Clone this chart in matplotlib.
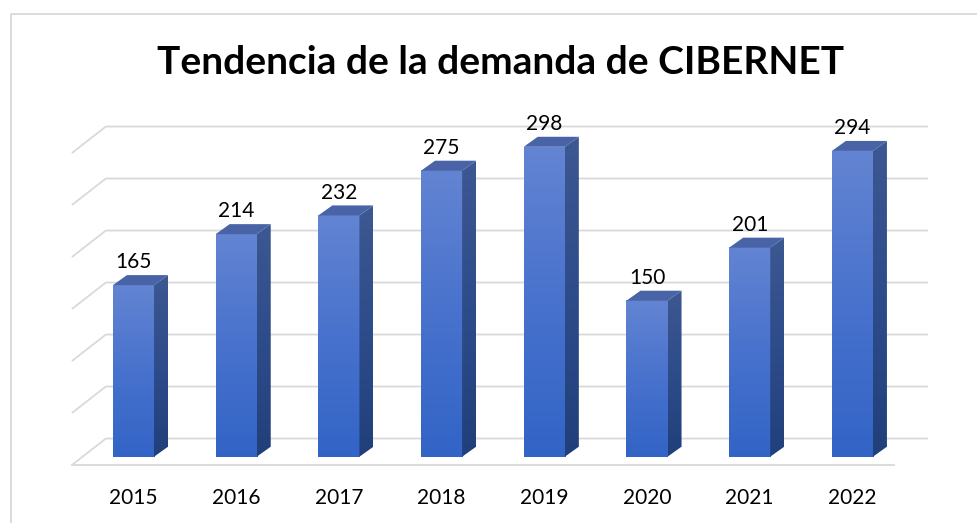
import numpy as np
import matplotlib.pyplot as plt
from matplotlib.patches import Polygon
from matplotlib.colors import LinearSegmentedColormap
from matplotlib.lines import Line2D

# datos del grafico
anios = ['2015', '2016', '2017', '2018', '2019', '2020', '2021', '2022']
demanda = [165, 214, 232, 275, 298, 150, 201, 294]
niveles = [0, 50, 100, 150, 200, 250, 300]
titulo = 'Tendencia de la demanda de CIBERNET'

plt.rcParams['font.family'] = ['Lato', 'DejaVu Sans']

W, H = 978, 523
fig = plt.figure(figsize=(W / 100, H / 100), dpi=100)
ax = fig.add_axes([0, 0, 1, 1])
ax.set_axis_off()

# escala: una categoria = 102.7 px, una unidad = 1.04 px
x0, sx = 133.5, 102.7
y0, sy = 456.7, 1.04

# profundidad de barras y de la pared
ancho = 0.4
bdx, bdy = 14 / sx, 10 / sy
pdx, pdy = 34 / sx, 26.5 / sy
frente = -8.0
x_izq = -0.6
x_der = 7.736

gris = '#d9d9d9'
for g in niveles:
    ax.plot([x_izq, x_izq + pdx, x_der], [g + frente, g + frente + pdy, g + frente + pdy],
            color=gris, lw=1.3, zorder=1, solid_capstyle='butt')
ax.plot([x_izq, x_der - pdx], [frente, frente], color=gris, lw=1.3, zorder=1)

cm_frente = LinearSegmentedColormap.from_list('f', ['#3264c6', '#4872cd', '#6384d2'])
cm_lado = LinearSegmentedColormap.from_list('l', ['#213f7a', '#2d4c8a', '#3d5892'])
grad = np.linspace(0, 1, 256).reshape(-1, 1)

for i, v in enumerate(demanda):
    xl, xr = i - ancho / 2, i + ancho / 2
    # cara frontal
    ax.imshow(grad, extent=[xl, xr, 0, v], origin='lower', cmap=cm_frente,
              aspect='auto', zorder=3)
    # cara lateral
    lado = Polygon([(xr, 0), (xr + bdx, bdy), (xr + bdx, v + bdy), (xr, v)],
                   closed=True, facecolor='none', edgecolor='none')
    ax.add_patch(lado)
    im = ax.imshow(grad, extent=[xr, xr + bdx, 0, v + bdy], origin='lower', cmap=cm_lado,
                   aspect='auto', zorder=3)
    im.set_clip_path(lado)
    # cara superior
    ax.add_patch(Polygon([(xl, v), (xl + bdx, v + bdy), (xr + bdx, v + bdy), (xr, v)],
                         closed=True, facecolor='#4864a6', edgecolor='none', zorder=3))
    ax.text(i, v + bdy + 6.5, str(v), ha='center', va='baseline', fontsize=15,
            color='black', zorder=4)
    ax.text(i, (y0 - 504) / sy, anios[i], ha='center', va='baseline', fontsize=15,
            color='black')

ax.set_xlim(-x0 / sx, (W - x0) / sx)
ax.set_ylim((y0 - H) / sy, y0 / sy)

fig.text(501 / W, 1 - 74 / H, titulo, ha='center', va='baseline', fontsize=28,
         fontweight='bold', color='black')

# borde del area del grafico
fig.add_artist(Line2D([11.5 / W, 11.5 / W, 1], [0, 1 - 14 / H, 1 - 14 / H],
                      transform=fig.transFigure, color=gris, lw=1.3))

fig.savefig('out.png', dpi=100, facecolor='white')
